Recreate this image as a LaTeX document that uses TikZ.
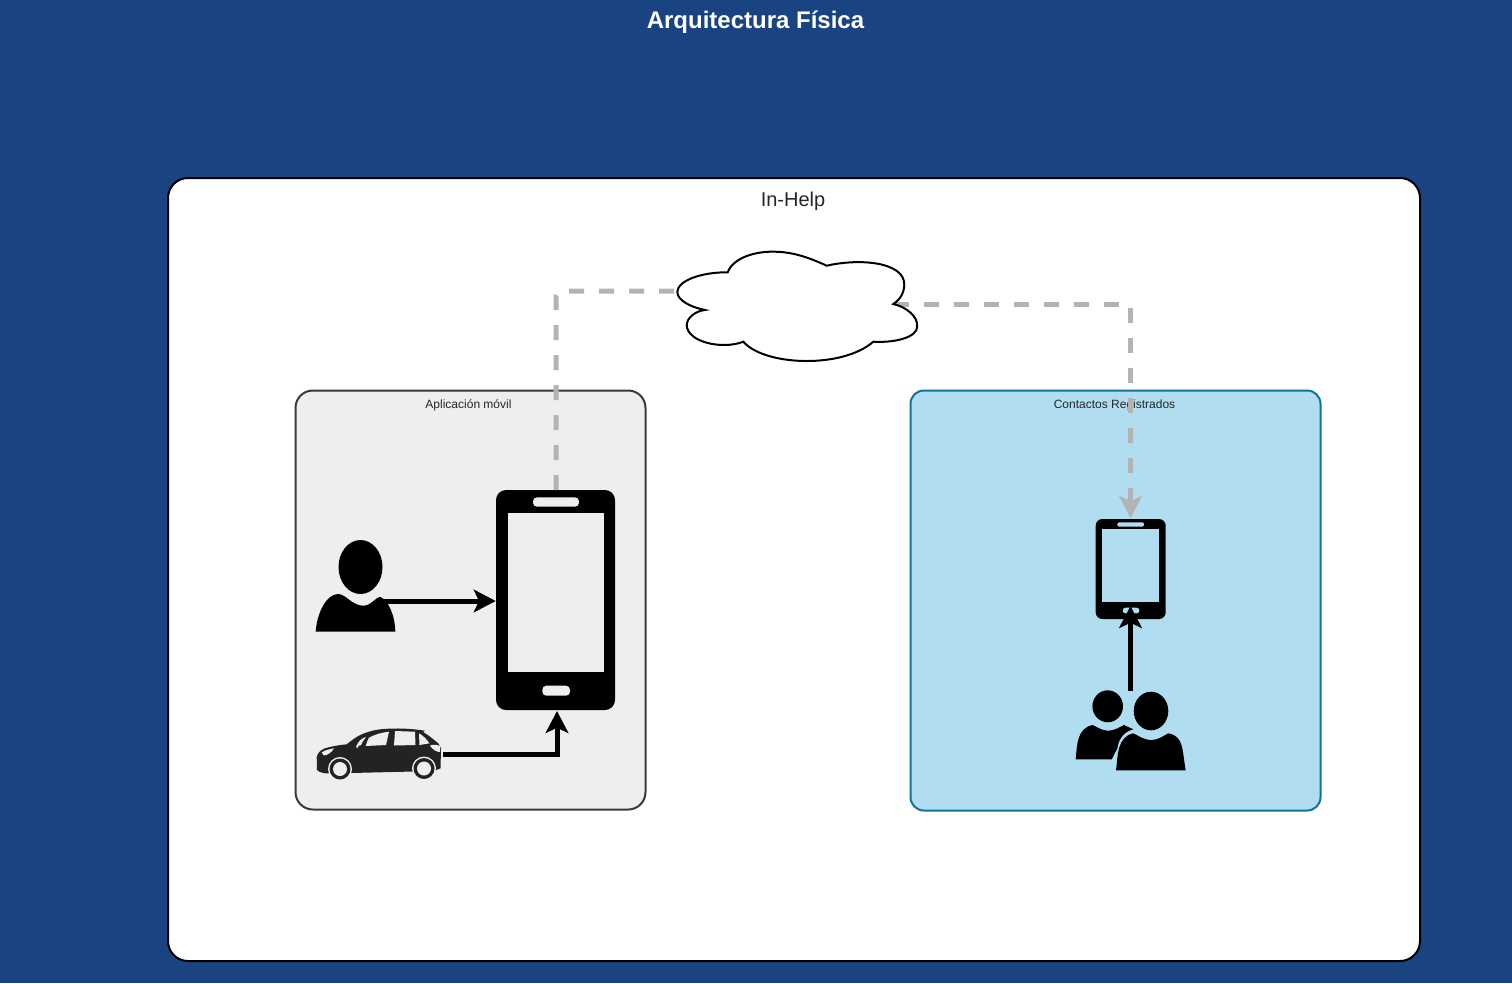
\documentclass[tikz,border=0pt]{standalone}
\usepackage{fontspec}
\setmainfont{Liberation Sans}
\usetikzlibrary{arrows.meta}
\definecolor{bgblue}{HTML}{1A4381}
\definecolor{appfill}{HTML}{EEEEEE}
\definecolor{appline}{HTML}{36393D}
\definecolor{contactfill}{HTML}{B1DDF0}
\definecolor{contactline}{HTML}{10739E}
\definecolor{linkgray}{HTML}{B3B3B3}
\definecolor{cardark}{HTML}{232323}
\tikzset{
  x=0.75pt,y=-0.75pt,
  panel/.style={draw,rectangle,line width=1.5pt,inner sep=0pt},
  icon/.style={rectangle,fill=black,inner sep=0pt,rounded corners=7.5pt},
  anchorbox/.style={rectangle,inner sep=0pt},
  tag/.style={font=\fontsize{9}{11}\selectfont,text=black!85,inner sep=0pt},
  flow/.style={draw=black,line width=3.75pt,-{Stealth[length=16.5pt,width=17pt,inset=4pt]}},
  link/.style={draw=linkgray,line width=3.75pt,dash pattern=on 11.25pt off 11.25pt},
}
\begin{document}
\begin{tikzpicture}
\useasboundingbox (0,0) rectangle (1512,983);
\fill[bgblue] (0,0) rectangle (1512,983);
\node[font=\fontsize{18}{22}\selectfont\bfseries,text=white,inner sep=0pt] (title) at (755.5,22.5) {Arquitectura Física};
% main frame
\node[panel,draw=black,fill=white,rounded corners=15pt,minimum width=1252*0.75pt,minimum height=783*0.75pt] (main) at (794,569.5) {};
\node[font=\fontsize{15}{18}\selectfont,text=black!85,inner sep=0pt] (mainlabel) at (793,201.5) {In-Help};
% cloud anchors
\coordinate (cloudL) at (677,291);
\coordinate (cloudR) at (894,304);
% panels
\node[panel,draw=appline,fill=appfill,rounded corners=13pt,minimum width=350*0.75pt,minimum height=419*0.75pt] (app) at (470.5,600) {};
\node[panel,draw=contactline,fill=contactfill,rounded corners=10pt,minimum width=410*0.75pt,minimum height=420*0.75pt] (contacts) at (1115.5,600.5) {};
\node[tag] (applabel) at (468.5,405) {Aplicación móvil};
\node[tag] (contactlabel) at (1114.5,405) {Contactos Registrados};
% big phone
\node[icon,minimum width=119*0.75pt,minimum height=220*0.75pt] (phoneA) at (555.5,600) {};
\fill[appfill] (507.7,512.7) rectangle (604,671.7);
\fill[appfill,rounded corners=3pt] (533,497.3) rectangle (579,506.7);
\fill[appfill,rounded corners=3pt] (542.3,685.7) rectangle (570,695.7);
% small phone
\node[icon,rounded corners=5pt,minimum width=70*0.75pt,minimum height=100*0.75pt] (phoneB) at (1130.7,569) {};
\fill[contactfill] (1102.3,529.3) rectangle (1159,601.7);
\fill[contactfill,rounded corners=1.5pt] (1117.3,522.3) rectangle (1144,526.7);
\fill[contactfill,rounded corners=2pt] (1122.7,607.7) rectangle (1139.3,613.3);
% person
\fill[black] (360.5,567) ellipse [x radius=22,y radius=27];
\fill[black] (315.7,631.7) .. controls (317,612) and (327,594) .. (338,594)
  .. controls (346,594) and (352,606) .. (364,605.7)
  .. controls (372,605) and (376,597) .. (380,596.7)
  .. controls (388,600) and (395,615) .. (395.3,631.7) -- cycle;
\coordinate (personOut) at (382,601);
% car
\fill[cardark] (316.7,757) .. controls (318,752) and (321,750) .. (325,748.3)
  .. controls (332,746) and (340,745) .. (346.7,744.3)
  .. controls (352,740) and (356,737) .. (361.7,734.3)
  .. controls (372,730) and (380,729) .. (388.3,728.7)
  .. controls (402,728) and (414,729) .. (425,730.7)
  -- (423,732) .. controls (430,736) and (434,740) .. (438.3,743.3)
  -- (441,748.3) -- (440.5,768.3) -- (434,771) -- (330,773.5)
  .. controls (325,773.5) and (320,773) .. (317,770) -- cycle;
\fill[appfill] (365.7,746) .. controls (367,742) and (368,739) .. (369,737.7) .. controls (376,734) and (382,732.5) .. (389,731.7) -- (386,745) -- cycle;
\fill[appfill] (395,731) -- (415,731.7) -- (415.5,745) -- (394,745.5) -- cycle;
\fill[appfill] (419,733.3) .. controls (424,736) and (427,740) .. (429.5,743.3) -- (419.5,745) -- cycle;
\fill[appfill] (356,747) .. controls (358,741) and (362,738) .. (366,737) .. controls (364,740) and (362,742) .. (361,745) -- (358,746) -- (358,748) -- cycle;
\fill[appfill] (321.7,752.5) .. controls (325,750) and (330,749) .. (334,748.3) .. controls (332,752) and (328,755) .. (324,755.5) -- cycle;
\fill[appfill] (430,745.5) .. controls (434,744) and (438,745) .. (440,746) -- (440,752) .. controls (436,752) and (432,749) .. (430,745.5) -- cycle;
\foreach \wx/\wy in {340/769,424/768.5}{
  \fill[appfill] (\wx,\wy) circle [radius=12];
  \fill[cardark] (\wx,\wy) circle [radius=10.5];
  \fill[appfill] (\wx,\wy) circle [radius=7];
}
\coordinate (carOut) at (443,754);
% people
\fill[black] (1107.7,706.3) ellipse [x radius=15.3,y radius=16];
\fill[black] (1075.7,759.3) .. controls (1077,745) and (1077,728) .. (1092.7,725)
  .. controls (1097,727) and (1102,730.7) .. (1108.3,730.7)
  .. controls (1114,730.7) and (1120,727) .. (1124,725)
  -- (1133.3,729.3) .. controls (1122,732) and (1118,742) .. (1117.5,748) -- (1111.7,759.3) -- cycle;
\fill[black] (1151,711) ellipse [x radius=17.3,y radius=19.3];
\fill[black] (1116,770.3) .. controls (1118,755) and (1117,737) .. (1133.3,733.3)
  .. controls (1139,736) and (1144,740) .. (1151.7,740)
  .. controls (1158,740) and (1163,736) .. (1168.3,733.3)
  .. controls (1184,736) and (1182,750) .. (1185.7,770.3) -- cycle;
\coordinate (peopleOut) at (1130.5,691);
% links
\coordinate (linkStart) at (556,490);
\coordinate (linkA) at (556,291);
\coordinate (linkB) at (1130.5,304);
\coordinate (phoneBtop) at (1130.5,518);
\draw[link,rounded corners=3.5pt] (linkStart) -- (linkA) -- (cloudL);
\draw[link,-{Stealth[length=16.5pt,width=17pt,inset=4pt,color=linkgray]}] (cloudR) -- (linkB) -- (phoneBtop);
% cloud
\draw[draw=black,fill=white,line width=1.5pt] (727.7,272.3)
  .. controls (733,258) and (755,251) .. (775,251.7)
  .. controls (795,252) and (812,259) .. (826.7,265.7)
  .. controls (860,258) and (905,262) .. (904.3,285)
  .. controls (904,295) and (898,301) .. (893.3,304)
  .. controls (906,307) and (918,316) .. (917.2,326.7)
  .. controls (917,337) and (896,343) .. (873.3,341.7)
  .. controls (858,355) and (832,361) .. (806.7,361)
  .. controls (782,361) and (755,355) .. (743.3,341.7)
  .. controls (722,350) and (687,342) .. (686.7,325)
  .. controls (687,318) and (695,311) .. (705,310)
  .. controls (690,307) and (677,300) .. (677.3,291.7)
  .. controls (678,280) and (703,272) .. (727.7,272.3) -- cycle;
% flows
\draw[flow] (personOut) -- (personOut -| phoneA.west);
\draw[flow] (carOut) -- (557,754) -- (557,711);
\draw[flow] (peopleOut) -- (1130.5,606);
\end{tikzpicture}
\end{document}
